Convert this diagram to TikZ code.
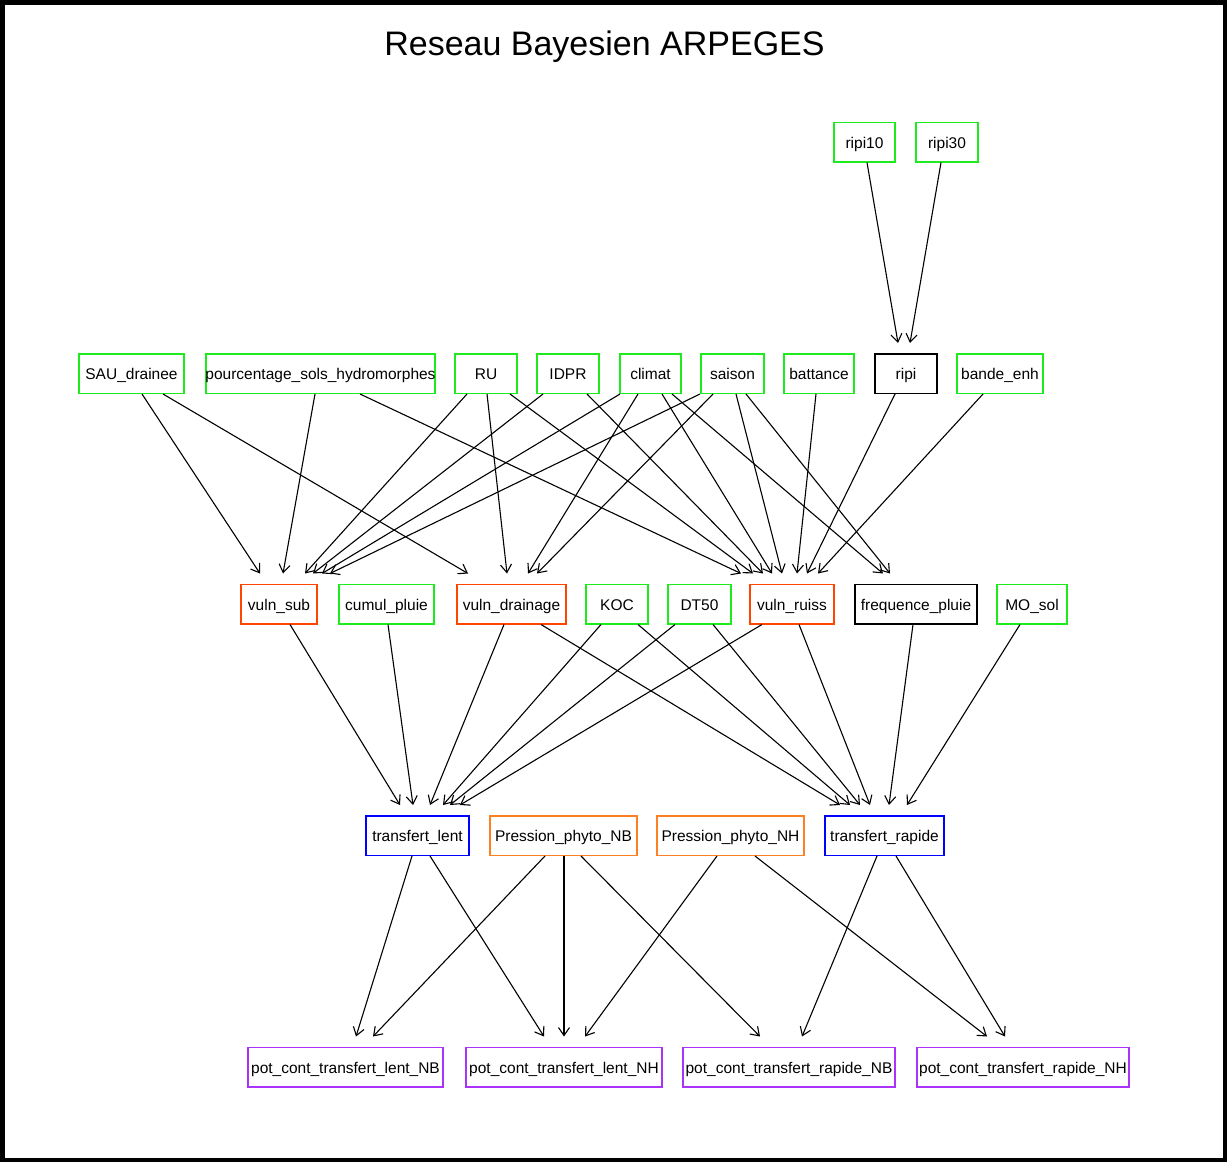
\documentclass[tikz,border=0pt]{standalone}
\usepackage{fontspec}
\setmainfont{Liberation Sans}
\usetikzlibrary{arrows.meta}
\definecolor{cgreen}{RGB}{30,235,30}
\definecolor{cred}{RGB}{255,69,0}
\definecolor{corange}{RGB}{255,127,36}
\definecolor{cblue}{RGB}{0,0,255}
\definecolor{cpurple}{RGB}{170,50,250}
\tikzset{
  box/.style={draw, line width=1.5pt, inner sep=0pt, minimum height=39.5pt,
    text height=12pt, text depth=0pt,
    font=\fontsize{15.5}{18}\selectfont},
  gbox/.style={box, draw=cgreen},
  rbox/.style={box, draw=cred},
  obox/.style={box, draw=corange},
  bbox/.style={box, draw=cblue},
  pbox/.style={box, draw=cpurple},
  kbox/.style={box, draw=black},
  edge/.style={draw=black, line width=1.1pt,
    -{Straight Barb[length=8pt,width=11pt,line width=1.1pt]}}
}
% edge from source (x offset) to target (x offset), tip 10pt above target
\newcommand\edg[4]{\draw[edge] ([xshift=#2pt]#1.south) -- ([xshift=#4pt,yshift=10pt]#3.north);}
\begin{document}
\begin{tikzpicture}[x=1pt,y=-1pt]
\useasboundingbox (0,0) rectangle (1227,1162);
\draw[line width=4.5pt] (2.25,2.25) rectangle (1224.75,1159.75);
\node[anchor=base, font=\fontsize{34}{40}\selectfont] (title) at (604.5,55) {Reseau Bayesien ARPEGES};

% top
\node[gbox, minimum width=61pt] (ripiA) at (864.5,142) {ripi10};
\node[gbox, minimum width=62pt] (ripiB) at (947,142) {ripi30};

% row 1
\node[gbox, minimum width=105pt] (sau) at (131.5,373.5) {SAU\_drainee};
\node[gbox, minimum width=229pt] (pourc) at (320.5,373.5) {\makebox[228pt]{pourcentage\_sols\_hydromorphes}};
\node[gbox, minimum width=62pt] (ru) at (486,373.5) {RU};
\node[gbox, minimum width=62pt] (idpr) at (568,373.5) {IDPR};
\node[gbox, minimum width=61pt] (climat) at (650.5,373.5) {climat};
\node[gbox, minimum width=63pt] (saison) at (732.5,373.5) {saison};
\node[gbox, minimum width=70pt] (battance) at (819,373.5) {battance};
\node[kbox, minimum width=62pt] (ripi) at (906,373.5) {ripi};
\node[gbox, minimum width=86pt] (bande) at (1000,373.5) {bande\_enh};

% row 2
\node[rbox, minimum width=76pt] (vsub) at (279,604) {vuln\_sub};
\node[gbox, minimum width=95pt] (cumul) at (386.5,604) {cumul\_pluie};
\node[rbox, minimum width=109pt] (vdrain) at (511.5,604) {vuln\_drainage};
\node[gbox, minimum width=62pt] (koc) at (617,604) {KOC};
\node[gbox, minimum width=63pt] (dt) at (699.5,604) {DT50};
\node[rbox, minimum width=84pt] (vruiss) at (792,604) {vuln\_ruiss};
\node[kbox, minimum width=122pt] (freq) at (916,604) {frequence\_pluie};
\node[gbox, minimum width=70pt] (mosol) at (1032,604) {MO\_sol};

% row 3
\node[bbox, minimum width=103pt] (tlent) at (417.5,835.5) {transfert\_lent};
\node[obox, minimum width=147pt] (pnb) at (563.5,835.5) {Pression\_phyto\_NB};
\node[obox, minimum width=147pt] (pnh) at (730.5,835.5) {Pression\_phyto\_NH};
\node[bbox, minimum width=119pt] (trap) at (884.5,835.5) {transfert\_rapide};

% row 4
\node[pbox, minimum width=195pt] (clnb) at (345.5,1067) {pot\_cont\_transfert\_lent\_NB};
\node[pbox, minimum width=196pt] (clnh) at (564,1067) {pot\_cont\_transfert\_lent\_NH};
\node[pbox, minimum width=212pt] (crnb) at (789,1067) {pot\_cont\_transfert\_rapide\_NB};
\node[pbox, minimum width=212pt] (crnh) at (1023,1067) {pot\_cont\_transfert\_rapide\_NH};

% edges: top -> ripi
\edg{ripiA}{2.5}{ripi}{-8}
\edg{ripiB}{-6}{ripi}{4}

% edges: row 1 -> row 2
\edg{sau}{10.5}{vsub}{-19}
\edg{sau}{31.5}{vdrain}{-43.5}
\edg{pourc}{-5.5}{vsub}{4}
\edg{pourc}{39.5}{vruiss}{-51}
\edg{ru}{-19}{vsub}{26}
\edg{ru}{1}{vdrain}{-4.5}
\edg{ru}{24}{vruiss}{-39}
\edg{idpr}{-25}{vsub}{34}
\edg{idpr}{19}{vruiss}{-29}
\edg{climat}{-30.5}{vsub}{43}
\edg{climat}{-12.5}{vdrain}{16.5}
\edg{climat}{11.5}{vruiss}{-20}
\edg{climat}{21.5}{freq}{-33}
\edg{saison}{-32.5}{vsub}{51}
\edg{saison}{-19.5}{vdrain}{25.5}
\edg{saison}{3.5}{vruiss}{-10}
\edg{saison}{13.5}{freq}{-26}
\edg{battance}{-3}{vruiss}{5}
\edg{ripi}{-11}{vruiss}{15}
\edg{bande}{-17}{vruiss}{26}

% edges: row 2 -> row 3
\edg{vsub}{11}{tlent}{-17.5}
\edg{cumul}{1.5}{tlent}{-4.5}
\edg{vdrain}{-7.5}{tlent}{12.5}
\edg{koc}{-16}{tlent}{25.5}
\edg{dt}{-24.5}{tlent}{32.5}
\edg{vruiss}{-30}{tlent}{42.5}
\edg{vdrain}{29.5}{trap}{-44.5}
\edg{koc}{21}{trap}{-34.5}
\edg{dt}{13.5}{trap}{-24.5}
\edg{vruiss}{7}{trap}{-14.5}
\edg{freq}{-3}{trap}{4.5}
\edg{mosol}{-12}{trap}{22.5}

% edges: row 3 -> row 4
\edg{tlent}{-5.5}{clnb}{10.5}
\edg{tlent}{12.5}{clnh}{-20}
\edg{pnb}{-18.5}{clnb}{27.5}
\edg{pnb}{0.5}{clnh}{0}
\edg{pnb}{17.5}{crnb}{-29}
\edg{pnh}{-13.5}{clnh}{21}
\edg{pnh}{24.5}{crnh}{-36}
\edg{trap}{-7.5}{crnb}{13}
\edg{trap}{11.5}{crnh}{-18}
\end{tikzpicture}
\end{document}
